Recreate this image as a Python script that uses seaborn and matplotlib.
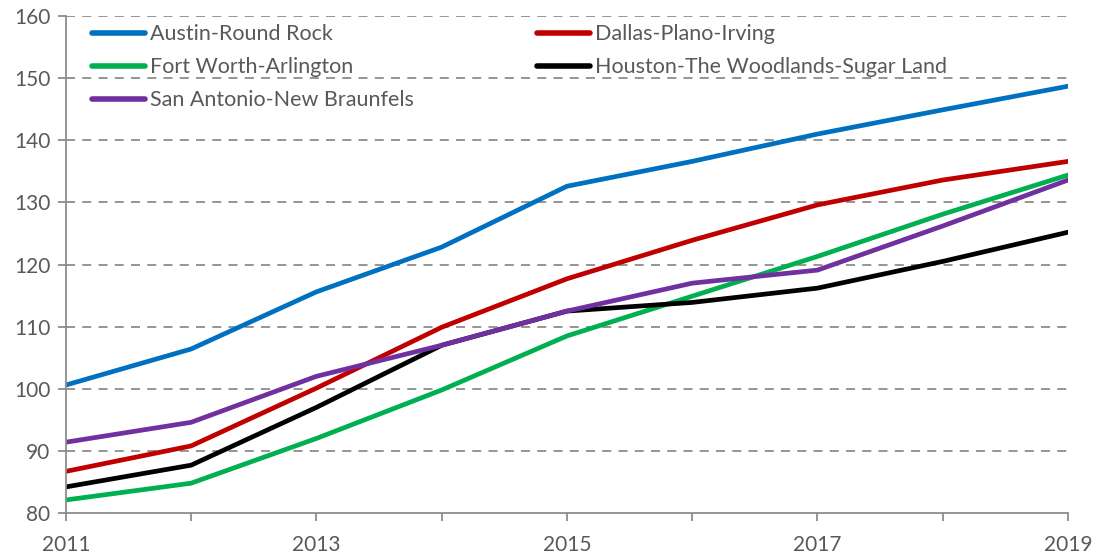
import matplotlib
matplotlib.use("Agg")
import matplotlib.pyplot as plt
import pandas as pd
import seaborn as sns

years = [2011, 2012, 2013, 2014, 2015, 2016, 2017, 2018, 2019]
austin = [100.6, 106.4, 115.6, 122.8, 132.6, 136.6, 141.0, 144.9, 148.7]
dallas = [86.7, 90.8, 100.1, 109.9, 117.7, 123.9, 129.6, 133.6, 136.6]
fort_worth = [82.1, 84.8, 92.0, 99.8, 108.5, 114.9, 121.3, 128.1, 134.4]
houston = [84.2, 87.7, 97.0, 107.0, 112.5, 113.9, 116.2, 120.5, 125.2]
san_antonio = [91.4, 94.6, 102.0, 107.0, 112.5, 117.0, 119.1, 126.2, 133.6]

series = {
    "Austin-Round Rock": austin,
    "Dallas-Plano-Irving": dallas,
    "Fort Worth-Arlington": fort_worth,
    "Houston-The Woodlands-Sugar Land": houston,
    "San Antonio-New Braunfels": san_antonio,
}
colors = {
    "Austin-Round Rock": "#0070C0",
    "Dallas-Plano-Irving": "#C00000",
    "Fort Worth-Arlington": "#00B050",
    "Houston-The Woodlands-Sugar Land": "#000000",
    "San Antonio-New Braunfels": "#7030A0",
}

df = pd.DataFrame(
    [(name, y, v) for name, vals in series.items() for y, v in zip(years, vals)],
    columns=["metro", "year", "value"],
)

sns.set_theme(style="white")
plt.rcParams["font.family"] = ["Lato", "DejaVu Sans"]

fig = plt.figure(figsize=(10.97, 5.56), dpi=100)
ax = fig.add_axes([0.060, 0.0773, 0.9136, 0.8939])

sns.lineplot(data=df, x="year", y="value", hue="metro", palette=colors,
             hue_order=list(series.keys()), linewidth=3.4, ax=ax, legend=False)

ax.set_xlim(2011, 2019)
ax.set_ylim(80, 160)
ax.set_xticks(years)
ax.set_xticklabels([str(y) if y % 2 == 1 else "" for y in years])
ax.set_yticks(range(80, 161, 10))
ax.set_xlabel("")
ax.set_ylabel("")

for v in range(90, 161, 10):
    ax.axhline(v, color="#8c8c8c", lw=1.3, ls=(0, (5, 4)), zorder=0)

for side in ["top", "right"]:
    ax.spines[side].set_visible(False)
for side in ["left", "bottom"]:
    ax.spines[side].set_color("#8c8c8c")
    ax.spines[side].set_linewidth(1.3)

ax.tick_params(axis="both", colors="#8c8c8c", labelcolor="#595959",
               labelsize=15, length=6, width=1.3, direction="out")
ax.tick_params(axis="x", pad=10)
ax.tick_params(axis="y", pad=5)
ax.xaxis.set_ticks_position("bottom")
ax.yaxis.set_ticks_position("left")

# matplotlib fills legend columns first, so reorder for a row-wise look
order = ["Austin-Round Rock", "Fort Worth-Arlington", "San Antonio-New Braunfels",
         "Dallas-Plano-Irving", "Houston-The Woodlands-Sugar Land"]
handles = [plt.Line2D([], [], color=colors[n], lw=4, solid_capstyle="round") for n in order]
leg = ax.legend(handles, order, ncol=2, mode="expand",
                bbox_to_anchor=(0.022, 0.592, 0.862, 0.40), loc="upper left",
                frameon=False, fontsize=15.5, handlelength=2.45, handletextpad=0.25,
                labelspacing=0.6, borderaxespad=0.0, borderpad=0.2)
for t in leg.get_texts():
    t.set_color("#595959")

fig.savefig("out.png", dpi=100)
